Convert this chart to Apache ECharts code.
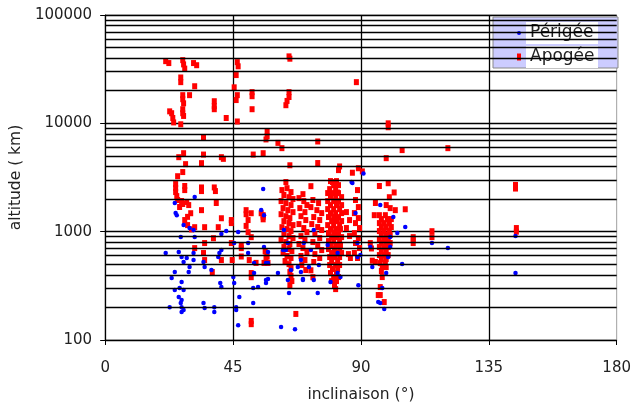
<!DOCTYPE html>
<html>
<head>
<meta charset="utf-8">
<script src="https://cdn.jsdelivr.net/npm/echarts@6/dist/echarts.min.js"></script>
<style>html,body{margin:0;padding:0;background:#fff;}#c{width:634px;height:410px;}</style>
</head>
<body>
<div id="c"></div>
<script>
const xTicks = [0, 45, 90, 135, 180];
const yMajor = [100, 1000, 10000, 100000];
const yMinor = [200,300,400,500,600,700,800,900,2000,3000,4000,5000,6000,7000,8000,9000,20000,30000,40000,50000,60000,70000,80000,90000];
const seriesNames = ['Périgée', 'Apogée'];

const apogee = [
[21.3,37500],[22.4,36000],[27.3,38300],[27.6,35000],[28.0,32000],[31.1,36000],[32.2,34400],
[26.6,26500],[26.6,24000],[31.5,22000],[29.7,18200],[27.3,18200],[27.3,16700],[27.6,15300],
[38.4,16000],[38.4,14400],[38.4,13500],[22.7,12900],[23.4,12400],[27.3,13500],[27.3,12400],[27.6,11700],
[23.8,11200],[24.1,10200],[26.6,9800],[42.6,11200],[34.6,7400],
[46.5,36700],[46.8,33600],[46.1,27900],[45.4,21500],[46.5,18200],[46.1,16400],
[51.7,19400],[51.7,17800],[51.7,13500],[46.5,10400],[57.0,8500],[57.0,7600],
[64.7,41500],[65.0,39500],[88.4,24000],[64.7,19400],[64.7,17500],[64.0,16100],[63.6,14700],
[56.6,7100],[60.8,6600],[62.2,5900],[55.6,5300],[74.8,6800],[65.0,4100],[74.8,4300],
[82.5,4000],[82.1,3700],[89.1,3850],[90.5,3600],[87.0,3500],
[99.6,10000],[99.6,9200],[104.5,5660],[120.6,5900],[98.9,4770],
[144.4,2700],[144.4,2500],[144.7,1080],[144.7,1000],
[27.6,5300],[25.9,4870],[34.6,5150],[40.9,4870],[41.6,4700],[33.9,4290],[28.3,4200],[52.1,5150],
[27.3,3550],[25.5,3250],[24.8,2750],[24.8,2530],[24.8,2320],[25.2,2130],[28.0,2640],[28.0,2420],
[33.9,2560],[33.9,2370],[38.4,2560],[38.8,2370],[25.5,1960],[26.9,1920],[27.3,1800],[28.7,1880],
[29.4,1760],[26.2,1690],[39.1,1840],[30.1,1480],[33.9,1580],[28.0,1280],[29.0,1370],[40.9,1330],
[44.4,1280],[31.5,1100],[35.0,1100],[39.8,1100],[44.4,1200],[49.6,1580],[49.6,1450],[51.4,1480],
[50.3,1280],[54.9,1480],[55.6,1370],[49.6,1130],[35.0,785],[31.5,705],[34.6,635],[35.0,547],
[40.9,547],[44.7,547],[37.7,424],[44.4,785],[47.9,705],[47.9,752],[47.9,590],[50.7,547],[53.1,515],
[51.4,415],[51.4,380],[56.6,580],[57.3,515],[51.4,150],[51.4,140],[67.1,174],
[50.3,990],[51.4,890],[30.4,1050],[29.0,1150],[38.1,870],
[55.6,1420],[55.6,1300],[56.3,660],[57.0,590],[55.9,515],
[62.2,2420],[64.0,2520],[65.4,2320],[62.9,2180],[64.7,2080],[66.1,2000],[61.9,1915],[63.6,1835],[65.4,1760],
[62.6,1650],[64.3,1580],[66.1,1515],[61.9,1450],[63.6,1390],[65.0,1335],[62.9,1250],[64.7,1200],[66.1,1150],
[62.2,1100],[64.0,1057],[65.4,1013],[62.9,950],[64.7,910],[66.1,873],[61.9,836],[63.6,802],[65.0,769],
[62.9,721],[64.7,691],[65.7,662],[62.6,635],[64.0,596],[65.4,571],[63.3,536],[64.7,502],[65.4,461],
[65.0,424],[65.4,389],[65.7,350],[65.0,321],
[69.6,2220],[68.2,2040],[69.9,1915],[71.0,1760],[68.5,1650],[70.3,1515],[68.9,1390],[70.6,1280],[68.2,1175],
[69.9,1080],[71.0,990],[68.9,910],[70.3,836],[68.2,769],[69.6,706],[71.0,648],[68.9,596],[70.3,547],
[69.2,492],[70.6,443],[72.4,440],[73.1,380],[72.4,2630],
[73.1,1960],[75.1,1835],[72.4,1686],[74.5,1580],[76.2,1484],[73.4,1364],[75.5,1280],[72.7,1175],[74.8,1103],
[76.2,1035],[73.8,950],[75.5,873],[73.1,802],[74.8,736],[76.2,676],[73.8,621],[75.5,571],[73.4,525],
[79.3,2930],[81.4,2930],[80.4,2690],[82.1,2690],[79.0,2470],[81.1,2470],[78.3,2270],[80.0,2270],[82.1,2270],
[79.3,2084],[81.1,2084],[83.2,2084],[78.3,1915],[80.4,1915],[82.1,1915],[79.3,1759],[81.4,1759],[83.2,1759],
[78.3,1615],[80.4,1615],[82.5,1615],[79.3,1484],[81.1,1484],[83.2,1484],[78.6,1364],[80.4,1364],[82.1,1364],
[79.7,1253],[81.4,1253],[83.2,1253],[78.3,1150],[80.4,1150],[82.5,1150],[79.3,1057],[81.1,1057],[82.8,1057],
[78.6,970],[80.4,970],[82.1,970],[79.7,891],[81.4,891],[83.2,891],[78.6,819],[80.4,819],[82.5,819],
[79.3,752],[81.1,752],[82.8,752],[78.6,691],[80.7,691],[82.5,691],[79.7,635],[81.4,635],[83.2,635],
[79.0,583],[80.7,583],[82.5,583],[79.7,536],[81.8,536],[79.0,492],[81.1,492],[82.5,492],
[80.0,452],[81.8,452],[79.3,415],[81.4,415],[80.4,381],[82.1,381],[79.7,350],[81.4,350],[80.7,321],[81.1,295],
[88.8,2420],[88.1,1960],[89.1,1686],[87.7,1484],[89.1,1335],[88.1,1200],[89.5,1080],[87.7,970],[89.1,873],
[88.1,785],[89.5,706],[87.7,635],[88.8,571],[85.6,621],[86.3,571],[84.9,1516],[86.0,1279],[84.9,1080],[86.0,911],
[96.5,1420],[98.6,1420],[97.2,1307],[99.3,1307],[100.7,1307],[96.5,1200],[98.2,1200],[100.0,1200],
[97.2,1103],[98.9,1103],[100.7,1103],[96.5,1013],[98.2,1013],[100.0,1013],[97.2,930],[98.9,930],[100.3,930],
[96.5,855],[98.2,855],[99.6,855],[97.2,785],[98.9,785],[100.3,785],[96.5,721],[98.2,721],[99.6,721],
[97.2,662],[98.9,662],[96.5,608],[98.2,608],[99.6,608],[97.2,558],[98.9,558],[96.8,513],[98.6,513],
[97.5,471],[98.9,471],[97.2,433],
[93.3,785],[93.7,700],[94.0,540],
[96.5,2640],[99.6,2800],[101.7,2300],[100.0,2080],[95.1,1840],[98.9,1760],[94.7,1420],[102.1,1580],[105.6,1610],[100.3,1650],
[97.5,381],[96.8,308],[96.8,260],[98.2,224],[115.0,1010],[115.0,890],[108.4,890],[108.4,785],[108.4,836],
[63.6,2870],[95.1,525],[96.1,260],[80.0,2870],[81.7,2300]
];

const perigee = [
[24.5,1835],[25.2,1420],[24.8,1484],[27.6,1150],[29.7,1080],[26.6,891],[31.5,891],[31.1,1035],[31.5,2084],
[55.6,2470],[55.9,1420],[40.9,950],[42.6,1013],[46.8,991],
[21.3,635],[25.9,648],[26.9,583],[27.6,525],[28.7,571],[29.7,471],[31.1,547],[31.1,635],[29.4,424],
[24.5,424],[23.4,373],[26.9,343],[26.2,302],[24.5,289],[27.6,289],[25.9,249],[26.9,234],[26.6,219],
[22.7,201],[26.9,201],[27.6,189],[26.9,181],[34.6,219],[35.0,197],[38.4,201],[38.4,181],
[34.6,525],[35.0,471],[37.4,443],[40.9,308],[40.5,336],[40.9,676],[40.2,635],[39.8,583],
[45.4,785],[45.1,381],[45.4,336],[47.2,249],[46.1,201],[46.1,189],[46.8,137],
[52.1,219],[52.1,302],[52.4,415],[53.8,308],[56.6,358],[57.3,513],[50.3,635],[52.4,513],[50.3,785],[54.9,1582],
[61.9,132],[66.8,126],[64.7,271],[69.6,358],[74.8,271],[60.8,415],[64.3,358],[67.8,471],[63.6,676],
[65.4,443],[71.7,471],[73.4,358],[87.0,2807],[96.8,1759],[62.9,1035],[64.3,785],[62.6,676],[69.9,785],
[73.4,1035],[72.4,676],[78.3,752],[81.8,635],[88.8,785],[88.1,1484],[89.8,608],[55.9,721],[57.3,648],
[56.6,513],[57.3,365],[56.6,336],[68.9,424],[69.6,365],[79.3,343],[82.8,381],[81.8,415],[89.1,321],
[96.1,224],[75.2,492],[68.9,547],[88.8,583],
[101.4,1364],[105.6,1103],[102.8,970],[115.0,785],[120.6,706],[104.5,502],[94.0,471],[98.9,415],
[97.5,302],[96.8,219],[98.2,193],[100.3,721],[99.6,583],[100.3,891],[93.3,721],
[86.7,2870],[90.9,3450],[144.4,910],[144.4,415]
];

const FONT = 'DejaVu Sans';
const chart = echarts.init(document.getElementById('c'), null, {renderer: 'canvas'});
chart.setOption({
  animation: false,
  backgroundColor: '#fff',
  grid: {left: 103, right: 16, top: 15, bottom: 70, show: true, borderColor: '#a0a0a0', borderWidth: 1, backgroundColor: 'transparent'},
  legend: {
    data: [{name: seriesNames[0], icon: 'circle'}, {name: seriesNames[1], icon: 'rect'}],
    orient: 'vertical', left: 493, top: 17,
    padding: [5, 20, 0, 24], itemGap: 2, itemWidth: 4, itemHeight: 7,
    backgroundColor: '#ccccff', borderColor: '#888', borderWidth: 1,
    textStyle: {fontFamily: FONT, fontSize: 17, color: '#222', lineHeight: 22, width: 66, backgroundColor: '#fff', padding: [0, 2, 0, 4]}
  },
  xAxis: {
    type: 'value', min: xTicks[0], max: xTicks[xTicks.length - 1], interval: 45,
    name: 'inclinaison (°)', nameLocation: 'middle', nameGap: 47,
    nameTextStyle: {fontFamily: FONT, fontSize: 15.5, color: '#222'},
    axisLine: {show: true, lineStyle: {color: '#000', width: 1}},
    axisTick: {show: true, inside: false, length: 5, lineStyle: {color: '#000'}},
    axisLabel: {fontFamily: FONT, fontSize: 15, color: '#222', margin: 21, alignMinLabel: 'center', alignMaxLabel: 'center', formatter: v => String(v)},
    splitLine: {show: true, showMaxLine: false, lineStyle: {color: '#000', width: 1.3}}
  },
  yAxis: {
    type: 'log', logBase: 10, min: yMajor[0], max: yMajor[yMajor.length - 1],
    name: 'altitude ( km)', nameLocation: 'middle', nameGap: 70, nameRotate: 90,
    nameTextStyle: {fontFamily: FONT, fontSize: 15.5, color: '#222'},
    axisLine: {show: true, lineStyle: {color: '#000', width: 1}},
    axisTick: {show: true, inside: false, length: 5, lineStyle: {color: '#000'}},
    axisLabel: {fontFamily: FONT, fontSize: 15, color: '#222', margin: 13, formatter: v => String(Math.round(v))},
    splitLine: {show: true, lineStyle: {color: '#000', width: 1.3}}
  },
  series: [
    {
      name: 'grid', type: 'scatter', data: [], silent: true, z: 1,
      markLine: {
        silent: true, symbol: ['none', 'none'], label: {show: false}, animation: false,
        lineStyle: {color: '#000', width: 1.3, type: 'solid'},
        emphasis: {disabled: true},
        data: yMinor.map(v => ({yAxis: v}))
      }
    },
    {
      name: seriesNames[1], type: 'scatter', data: apogee, z: 3,
      symbol: 'rect', symbolSize: [5, 6],
      itemStyle: {color: '#ff0000', opacity: 1}
    },
    {
      name: seriesNames[0], type: 'scatter', data: perigee, z: 4,
      symbol: 'circle', symbolSize: 4.5,
      itemStyle: {color: '#0000ff', opacity: 1}
    }
  ]
});
</script>
</body>
</html>
